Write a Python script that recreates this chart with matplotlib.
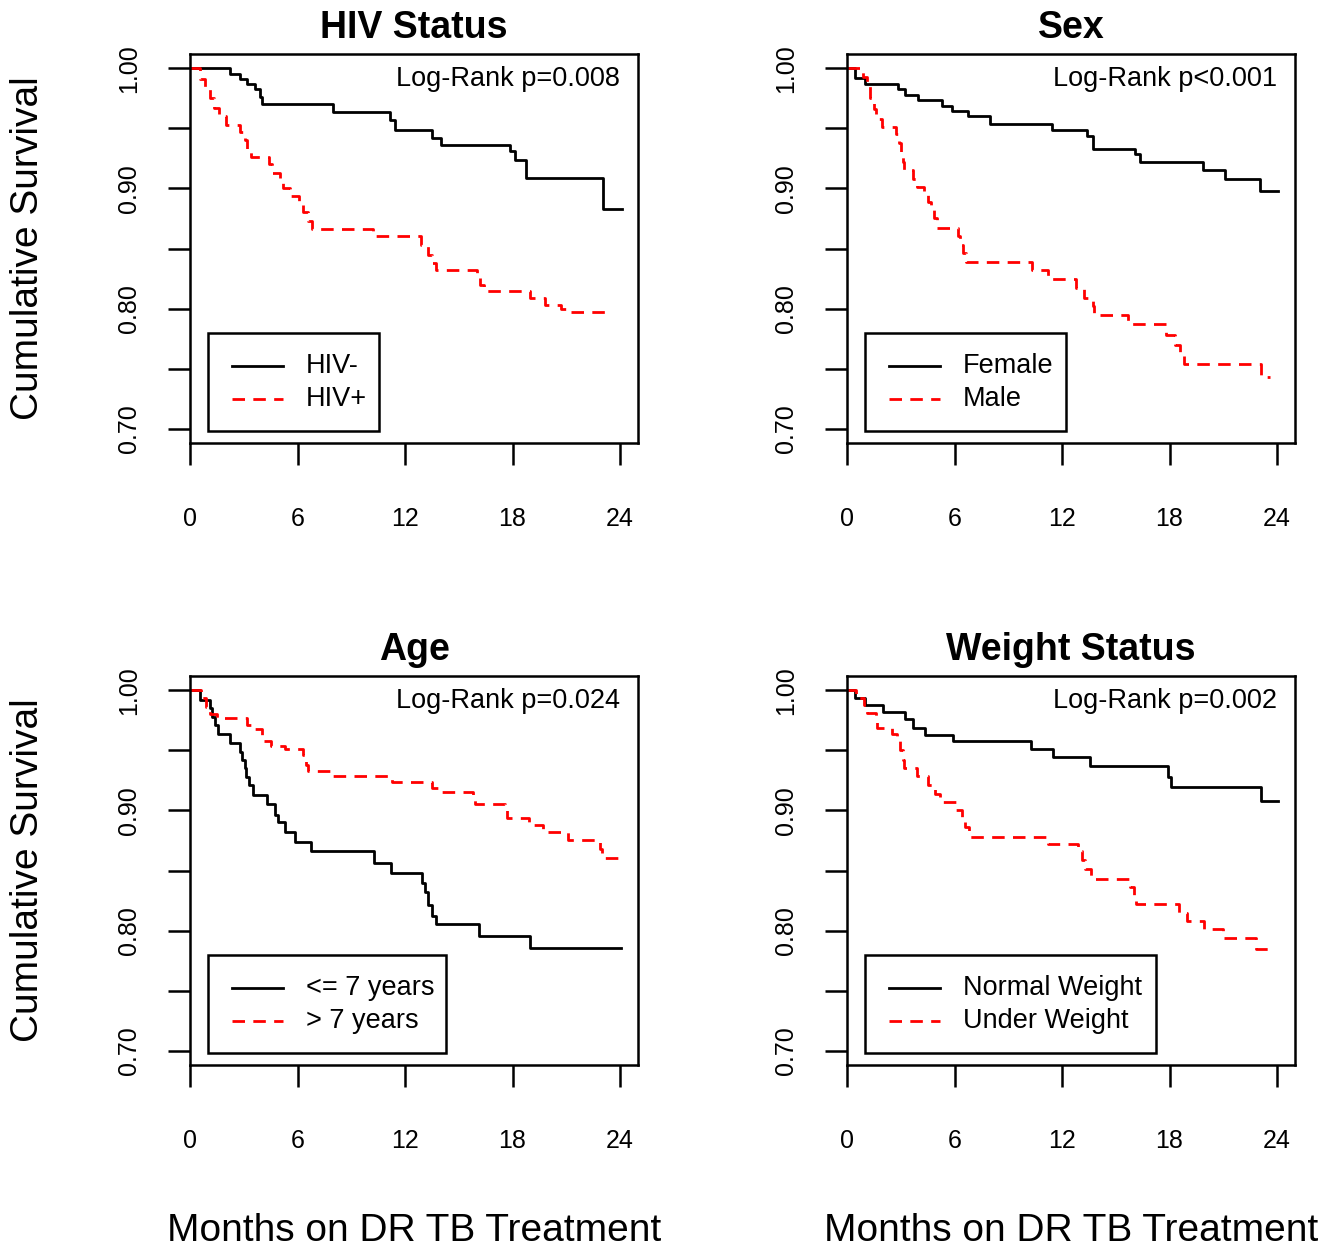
import matplotlib
matplotlib.use("Agg")
import matplotlib.pyplot as plt
from matplotlib.patches import Rectangle

plt.rcParams["font.family"] = ["Liberation Sans", "DejaVu Sans"]

# Kaplan-Meier steps (months, cumulative survival)
hiv_neg_t = [0, 2.23, 2.8, 3.16, 3.63, 3.9, 4.04, 8.0, 11.16, 11.44, 13.52, 13.99,
             17.86, 18.14, 18.75, 23.07, 24.09]
hiv_neg_s = [1.0, 0.995, 0.991, 0.987, 0.9825, 0.976, 0.970, 0.9636, 0.9567, 0.949,
             0.942, 0.936, 0.931, 0.924, 0.909, 0.8825, 0.8825]
hiv_pos_t = [0, 0.55, 0.85, 1.1, 1.35, 1.6, 2.0, 2.8, 3.05, 3.2, 3.4, 4.4, 4.6, 5.0,
             5.2, 5.6, 6.1, 6.3, 6.6, 6.8, 10.2, 12.9, 13.3, 13.5, 13.7, 16.0, 16.2,
             16.4, 19.0, 19.8, 20.7, 21.0, 23.4]
hiv_pos_s = [1.0, 0.991, 0.983, 0.975, 0.967, 0.960, 0.953, 0.947, 0.940, 0.933,
             0.926, 0.920, 0.913, 0.906, 0.900, 0.894, 0.887, 0.880, 0.873, 0.866,
             0.860, 0.853, 0.845, 0.838, 0.832, 0.826, 0.820, 0.815, 0.809, 0.803,
             0.800, 0.797, 0.797]

female_t = [0, 0.45, 1.0, 2.86, 3.24, 3.98, 5.28, 5.84, 6.77, 7.98, 11.43, 13.38,
            13.7, 16.07, 16.35, 19.88, 21.09, 23.04, 24.07]
female_s = [1.0, 0.992, 0.987, 0.983, 0.978, 0.974, 0.969, 0.9645, 0.960, 0.954,
            0.949, 0.944, 0.933, 0.929, 0.922, 0.915, 0.9075, 0.898, 0.898]
male_t = [0, 0.9, 1.1, 1.3, 1.5, 1.6, 1.95, 2.75, 2.9, 3.0, 3.1, 3.2, 3.7, 3.9, 4.3,
          4.5, 4.7, 4.85, 5.05, 6.2, 6.3, 6.5, 6.65, 10.3, 11.2, 12.8, 13.2, 13.7,
          13.8, 15.7, 17.8, 18.3, 18.6, 18.8, 23.1, 23.6]
male_s = [1.0, 0.993, 0.986, 0.975, 0.966, 0.958, 0.951, 0.945, 0.938, 0.930,
          0.922, 0.915, 0.908, 0.901, 0.895, 0.889, 0.882, 0.875, 0.867, 0.860,
          0.853, 0.846, 0.839, 0.832, 0.825, 0.817, 0.809, 0.802, 0.795, 0.787,
          0.778, 0.770, 0.762, 0.754, 0.743, 0.743]

young_t = [0, 0.56, 1.12, 1.2, 1.4, 1.56, 2.23, 2.8, 2.9, 3.05, 3.15, 3.3, 3.5,
           4.28, 4.74, 4.9, 5.3, 5.86, 6.75, 10.28, 11.2, 12.93, 13.1, 13.3, 13.5,
           13.73, 16.13, 18.97, 24.03]
young_s = [1.0, 0.9917, 0.985, 0.978, 0.971, 0.964, 0.956, 0.949, 0.942, 0.935,
           0.928, 0.921, 0.913, 0.9056, 0.896, 0.890, 0.882, 0.874, 0.866, 0.856,
           0.848, 0.840, 0.832, 0.821, 0.8125, 0.8056, 0.7953, 0.7853, 0.7853]
old_t = [0, 0.6, 0.9, 1.1, 1.5, 3.2, 3.4, 4.0, 4.1, 4.5, 5.3, 6.3, 6.45, 6.6, 7.8,
         11.3, 13.5, 14.0, 15.8, 15.9, 17.6, 17.7, 18.9, 19.7, 21.1, 22.9, 23.0, 24.0]
old_s = [1.0, 0.994, 0.986, 0.980, 0.977, 0.971, 0.968, 0.962, 0.958, 0.954, 0.951,
         0.946, 0.938, 0.933, 0.929, 0.924, 0.919, 0.915, 0.910, 0.905, 0.900,
         0.894, 0.888, 0.882, 0.875, 0.868, 0.860, 0.860]

normal_t = [0, 0.45, 1.0, 2.03, 3.24, 3.7, 4.35, 5.94, 10.25, 11.48, 13.56, 17.93,
            18.1, 23.08, 24.07]
normal_s = [1.0, 0.9936, 0.9875, 0.982, 0.976, 0.969, 0.963, 0.9575, 0.951, 0.9444,
            0.937, 0.928, 0.9194, 0.9075, 0.9075]
under_t = [0, 0.5, 0.95, 1.1, 1.6, 1.7, 2.5, 2.8, 2.95, 3.1, 3.2, 3.9, 4.5, 4.9,
           5.2, 6.1, 6.4, 6.6, 6.8, 11.2, 12.9, 13.1, 13.3, 13.6, 15.8, 16.0, 16.1,
           18.5, 19.0, 19.9, 21.0, 22.8, 23.9]
under_s = [1.0, 0.994, 0.988, 0.981, 0.976, 0.969, 0.964, 0.958, 0.950, 0.942,
           0.935, 0.929, 0.921, 0.914, 0.907, 0.900, 0.893, 0.886, 0.878, 0.872,
           0.866, 0.859, 0.851, 0.843, 0.836, 0.829, 0.822, 0.815, 0.808, 0.801,
           0.794, 0.785, 0.785]

titles = ["HIV Status", "Sex", "Age", "Weight Status"]
pvalues = ["Log-Rank p=0.008", "Log-Rank p<0.001", "Log-Rank p=0.024", "Log-Rank p=0.002"]
group_labels = [["HIV-", "HIV+"], ["Female", "Male"],
                ["<= 7 years", "> 7 years"], ["Normal Weight", "Under Weight"]]
curves = [[(hiv_neg_t, hiv_neg_s), (hiv_pos_t, hiv_pos_s)],
          [(female_t, female_s), (male_t, male_s)],
          [(young_t, young_s), (old_t, old_s)],
          [(normal_t, normal_s), (under_t, under_s)]]

x_ticks = [0, 6, 12, 18, 24]
y_ticks = [0.70, 0.75, 0.80, 0.85, 0.90, 0.95, 1.00]
y_ticklabels = ["0.70", "", "0.80", "", "0.90", "", "1.00"]

W, H = 1339, 1247
fig = plt.figure(figsize=(W / 100, H / 100), dpi=100)

# axes boxes in pixels: (left, top, right, bottom)
boxes = [(190, 54, 638, 443), (847, 54, 1295, 443),
         (190, 676, 638, 1065), (847, 676, 1295, 1065)]
legend_widths = [0.382, 0.449, 0.531, 0.650]

styles = [dict(color="black", linestyle="-"),
          dict(color="red", linestyle=(0, (4.5, 3)))]
LW = 2.0
AX_LW = 1.8

for i, (l, t, r, b) in enumerate(boxes):
    ax = fig.add_axes([l / W, 1 - b / H, (r - l) / W, (b - t) / H])
    for (tt, ss), st in zip(curves[i], styles):
        ax.step(tt, ss, where="post", lw=LW, **st)
    ax.set_xlim(0, 25)
    ax.set_ylim(0.688, 1.012)
    ax.set_xticks(x_ticks)
    ax.set_xticklabels([str(v) for v in x_ticks], fontsize=18)
    ax.set_yticks(y_ticks)
    ax.set_yticklabels(y_ticklabels, fontsize=18, rotation=90, va="center")
    ax.tick_params(axis="x", direction="out", length=16, width=AX_LW, pad=30)
    ax.tick_params(axis="y", direction="out", length=16, width=AX_LW, pad=19)
    for sp in ax.spines.values():
        sp.set_linewidth(AX_LW)
    ax.set_title(titles[i], fontsize=27, fontweight="bold", pad=11.5)
    ax.text(24, 0.9908, pvalues[i], ha="right", va="center", fontsize=19.5)

    # legend box drawn in the style of R's legend()
    ax.add_patch(Rectangle((0.040, 0.032), legend_widths[i], 0.251,
                           transform=ax.transAxes, facecolor="white",
                           edgecolor="black", lw=AX_LW, zorder=3))
    for lab, st, yy in zip(group_labels[i], styles, [0.197, 0.112]):
        ax.plot([0.094, 0.208], [yy, yy], transform=ax.transAxes, lw=LW,
                zorder=4, **st)
        ax.text(0.259, yy, lab, transform=ax.transAxes, va="center",
                fontsize=19.5, zorder=4)

# shared axis labels
for yc in [(54 + 443) / 2, (676 + 1065) / 2]:
    fig.text(28 / W, 1 - yc / H, "Cumulative Survival", rotation=90,
             ha="center", va="center", fontsize=28)
for xc in [(190 + 638) / 2, (847 + 1295) / 2]:
    fig.text(xc / W, 1 - 1241 / H, "Months on DR TB Treatment",
             ha="center", va="baseline", fontsize=28)

plt.savefig("out.png", dpi=100)
